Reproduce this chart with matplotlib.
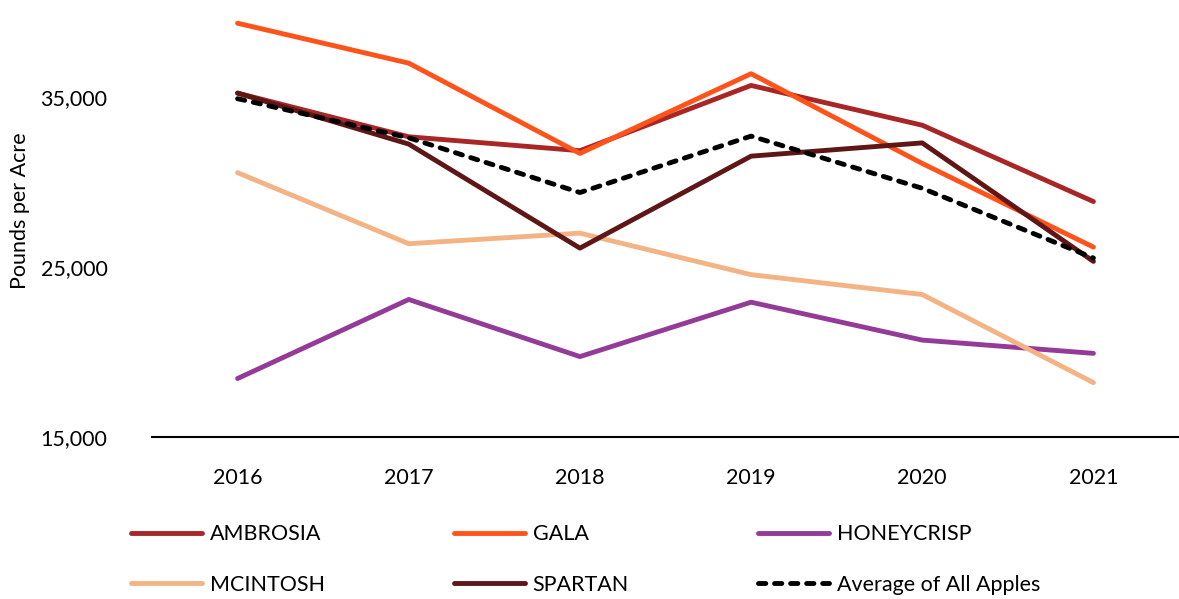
#!/usr/bin/env python3
import matplotlib
matplotlib.use('Agg')
import matplotlib.pyplot as plt
import numpy as np

plt.rcParams['font.family'] = ['Lato', 'DejaVu Sans']

# Data (pounds per acre)
years = ['2016', '2017', '2018', '2019', '2020', '2021']
ambrosia = [35230, 32660, 31840, 35680, 33340, 28850]
gala = [39340, 36990, 31680, 36370, 31090, 26170]
honeycrisp = [18440, 23090, 19730, 22930, 20700, 19920]
mcintosh = [30550, 26370, 26990, 24550, 23380, 18200]
spartan = [35230, 32230, 26110, 31520, 32300, 25330]
average = [34900, 32600, 29380, 32700, 29630, 25530]

y_ticks = [15000, 25000, 35000]

fig = plt.figure(figsize=(11.79, 5.99), dpi=100)
ax = fig.add_axes([152 / 1179, 1 - 437 / 599, 1 - 152 / 1179, (437 - 12) / 599])

x = np.arange(len(years))
lw = 3.5
ax.plot(x, ambrosia, color='#A82626', lw=lw, label='AMBROSIA', solid_capstyle='round')
ax.plot(x, gala, color='#FF5319', lw=lw, label='GALA', solid_capstyle='round')
ax.plot(x, honeycrisp, color='#943A98', lw=lw, label='HONEYCRISP', solid_capstyle='round')
ax.plot(x, mcintosh, color='#F4B385', lw=lw, label='MCINTOSH', solid_capstyle='round')
ax.plot(x, spartan, color='#5E1616', lw=lw, label='SPARTAN', solid_capstyle='round')
ax.plot(x, average, color='black', lw=lw, label='Average of All Apples',
        dashes=(1.5, 1.8), dash_capstyle='round')

ax.set_xlim(-0.5, 5.5)
ax.set_ylim(15000, 40000)
ax.set_xticks(x)
ax.set_xticklabels(years)
ax.set_yticks(y_ticks)
ax.set_yticklabels([f'{v:,}' for v in y_ticks])
ax.tick_params(axis='both', length=0, labelsize=15.5, colors='black')
ax.tick_params(axis='y', pad=32)
ax.tick_params(axis='x', pad=22)

for side in ['top', 'right', 'left']:
    ax.spines[side].set_visible(False)
ax.spines['bottom'].set_linewidth(1.5)
ax.spines['bottom'].set_color('black')

fig.text(20 / 1179, 1 - 211 / 599, 'Pounds per Acre', rotation=90,
         ha='center', va='center', fontsize=15.5)

# legend fills column by column, so reorder to get rows like the reference
handles, labels = ax.get_legend_handles_labels()
order = [0, 3, 1, 4, 2, 5]
fig.legend([handles[i] for i in order], [labels[i] for i in order],
           loc='upper left', bbox_to_anchor=(112 / 1179, 1 - 505 / 599),
           ncol=3, frameon=False, fontsize=15.5, handlelength=3.3, handletextpad=0.35,
           columnspacing=6.0, labelspacing=1.4)

fig.savefig('out.png', dpi=100)
